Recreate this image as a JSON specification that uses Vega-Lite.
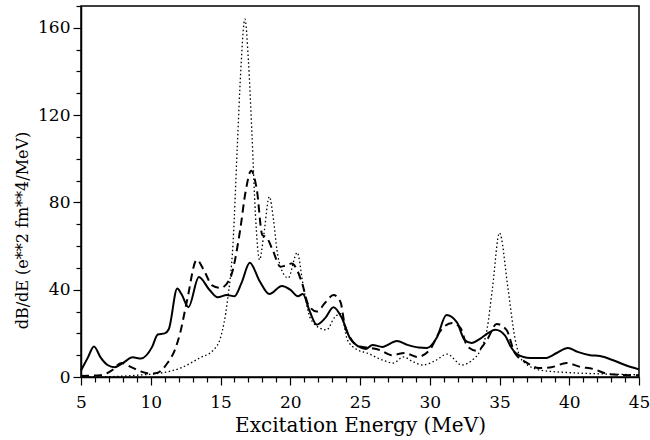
{
  "$schema": "https://vega.github.io/schema/vega-lite/v6.json",
  "width": 558,
  "height": 371,
  "autosize": "none",
  "padding": {"left": 81, "top": 6, "right": 11, "bottom": 63},
  "background": "white",
  "config": {
    "view": {"stroke": "black", "strokeWidth": 1.5},
    "axis": {
      "labelFont": "DejaVu Serif", "titleFont": "DejaVu Serif",
      "labelFontSize": 17, "titleFontSize": 18, "titleFontWeight": "normal",
      "labelColor": "black", "titleColor": "black",
      "domainColor": "black", "tickColor": "black", "domainWidth": 1.5, "tickWidth": 1.2,
      "grid": false
    }
  },
  "datasets": {
    "curves": [
      {"E":5,"dB":3,"s":"solid"},{"E":5.5,"dB":9,"s":"solid"},{"E":5.93,"dB":14,"s":"solid"},{"E":6.4,"dB":9,"s":"solid"},{"E":6.9,"dB":5.5,"s":"solid"},{"E":7.4,"dB":4.5,"s":"solid"},{"E":8.0,"dB":6.4,"s":"solid"},{"E":8.7,"dB":9,"s":"solid"},{"E":9.3,"dB":8.5,"s":"solid"},{"E":10.1,"dB":13.8,"s":"solid"},{"E":10.5,"dB":19.5,"s":"solid"},{"E":11.0,"dB":20,"s":"solid"},{"E":11.3,"dB":22,"s":"solid"},{"E":11.9,"dB":40.5,"s":"solid"},{"E":12.2,"dB":38,"s":"solid"},{"E":12.7,"dB":32,"s":"solid"},{"E":13.45,"dB":45.8,"s":"solid"},{"E":14.2,"dB":40,"s":"solid"},{"E":14.8,"dB":36.5,"s":"solid"},{"E":15.45,"dB":37.6,"s":"solid"},{"E":16.0,"dB":37,"s":"solid"},{"E":16.5,"dB":43,"s":"solid"},{"E":17.1,"dB":52.3,"s":"solid"},{"E":17.8,"dB":44,"s":"solid"},{"E":18.5,"dB":38,"s":"solid"},{"E":19.4,"dB":41.7,"s":"solid"},{"E":20.0,"dB":40,"s":"solid"},{"E":20.55,"dB":37,"s":"solid"},{"E":20.9,"dB":38,"s":"solid"},{"E":21.4,"dB":30,"s":"solid"},{"E":21.9,"dB":24,"s":"solid"},{"E":22.5,"dB":27,"s":"solid"},{"E":23.1,"dB":32,"s":"solid"},{"E":23.7,"dB":27,"s":"solid"},{"E":24.3,"dB":17.5,"s":"solid"},{"E":24.9,"dB":14,"s":"solid"},{"E":25.4,"dB":12.8,"s":"solid"},{"E":25.9,"dB":14.7,"s":"solid"},{"E":26.6,"dB":13.8,"s":"solid"},{"E":27.65,"dB":16.5,"s":"solid"},{"E":28.4,"dB":14.7,"s":"solid"},{"E":29.2,"dB":13.5,"s":"solid"},{"E":29.8,"dB":13.3,"s":"solid"},{"E":30.5,"dB":18,"s":"solid"},{"E":31.2,"dB":28.4,"s":"solid"},{"E":31.95,"dB":25,"s":"solid"},{"E":32.5,"dB":17,"s":"solid"},{"E":33.0,"dB":15.6,"s":"solid"},{"E":33.6,"dB":17.5,"s":"solid"},{"E":34.2,"dB":20.2,"s":"solid"},{"E":34.7,"dB":21.6,"s":"solid"},{"E":35.4,"dB":19,"s":"solid"},{"E":35.8,"dB":14,"s":"solid"},{"E":36.25,"dB":10.5,"s":"solid"},{"E":37.2,"dB":8.7,"s":"solid"},{"E":38.3,"dB":8.7,"s":"solid"},{"E":39.1,"dB":11,"s":"solid"},{"E":39.9,"dB":13.3,"s":"solid"},{"E":40.6,"dB":11.5,"s":"solid"},{"E":41.5,"dB":10,"s":"solid"},{"E":42.2,"dB":9.6,"s":"solid"},{"E":43.1,"dB":7.8,"s":"solid"},{"E":44.0,"dB":5.5,"s":"solid"},{"E":45,"dB":3.5,"s":"solid"},

      {"E":5,"dB":0.5,"s":"dashed"},{"E":6.4,"dB":0.8,"s":"dashed"},{"E":7.2,"dB":3,"s":"dashed"},{"E":7.9,"dB":6.4,"s":"dashed"},{"E":8.6,"dB":4.5,"s":"dashed"},{"E":9.4,"dB":2.3,"s":"dashed"},{"E":10.0,"dB":1.5,"s":"dashed"},{"E":10.5,"dB":2,"s":"dashed"},{"E":11.2,"dB":6.4,"s":"dashed"},{"E":11.7,"dB":12,"s":"dashed"},{"E":12.1,"dB":20,"s":"dashed"},{"E":12.6,"dB":35,"s":"dashed"},{"E":13.3,"dB":53.7,"s":"dashed"},{"E":13.8,"dB":49,"s":"dashed"},{"E":14.4,"dB":42,"s":"dashed"},{"E":15.0,"dB":40.8,"s":"dashed"},{"E":15.7,"dB":45.4,"s":"dashed"},{"E":16.4,"dB":67,"s":"dashed"},{"E":16.8,"dB":85,"s":"dashed"},{"E":17.2,"dB":94.5,"s":"dashed"},{"E":17.6,"dB":86,"s":"dashed"},{"E":18.0,"dB":65,"s":"dashed"},{"E":18.3,"dB":64,"s":"dashed"},{"E":18.75,"dB":58,"s":"dashed"},{"E":19.3,"dB":50.5,"s":"dashed"},{"E":19.6,"dB":51,"s":"dashed"},{"E":20.1,"dB":52,"s":"dashed"},{"E":20.85,"dB":43,"s":"dashed"},{"E":21.3,"dB":33,"s":"dashed"},{"E":21.9,"dB":30,"s":"dashed"},{"E":22.5,"dB":34,"s":"dashed"},{"E":23.1,"dB":37.6,"s":"dashed"},{"E":23.6,"dB":34.4,"s":"dashed"},{"E":23.9,"dB":24,"s":"dashed"},{"E":24.3,"dB":18,"s":"dashed"},{"E":25.0,"dB":14,"s":"dashed"},{"E":25.7,"dB":13.3,"s":"dashed"},{"E":26.4,"dB":12.4,"s":"dashed"},{"E":27.3,"dB":10,"s":"dashed"},{"E":28.2,"dB":11,"s":"dashed"},{"E":29.1,"dB":9.2,"s":"dashed"},{"E":30.0,"dB":12.4,"s":"dashed"},{"E":30.7,"dB":20.6,"s":"dashed"},{"E":31.6,"dB":24.8,"s":"dashed"},{"E":32.2,"dB":22.5,"s":"dashed"},{"E":32.7,"dB":14,"s":"dashed"},{"E":33.4,"dB":12,"s":"dashed"},{"E":34.1,"dB":17,"s":"dashed"},{"E":34.8,"dB":24.3,"s":"dashed"},{"E":35.5,"dB":21.6,"s":"dashed"},{"E":36.1,"dB":11,"s":"dashed"},{"E":37.0,"dB":6.4,"s":"dashed"},{"E":37.8,"dB":4.1,"s":"dashed"},{"E":38.8,"dB":4.6,"s":"dashed"},{"E":39.8,"dB":6.4,"s":"dashed"},{"E":40.8,"dB":4.6,"s":"dashed"},{"E":41.7,"dB":3.7,"s":"dashed"},{"E":42.7,"dB":1.5,"s":"dashed"},{"E":43.5,"dB":1,"s":"dashed"},{"E":45,"dB":0.8,"s":"dashed"},

      {"E":5,"dB":0,"s":"dotted"},{"E":7.3,"dB":0.2,"s":"dotted"},{"E":9,"dB":0.8,"s":"dotted"},{"E":10.7,"dB":1.8,"s":"dotted"},{"E":12.1,"dB":4,"s":"dotted"},{"E":13.5,"dB":8.7,"s":"dotted"},{"E":14.5,"dB":12.4,"s":"dotted"},{"E":15.0,"dB":18,"s":"dotted"},{"E":15.5,"dB":35,"s":"dotted"},{"E":15.9,"dB":61.5,"s":"dotted"},{"E":16.2,"dB":105,"s":"dotted"},{"E":16.45,"dB":140,"s":"dotted"},{"E":16.75,"dB":164,"s":"dotted"},{"E":17.0,"dB":145,"s":"dotted"},{"E":17.25,"dB":112,"s":"dotted"},{"E":17.5,"dB":75,"s":"dotted"},{"E":17.8,"dB":53.7,"s":"dotted"},{"E":18.1,"dB":65,"s":"dotted"},{"E":18.5,"dB":82.6,"s":"dotted"},{"E":18.8,"dB":72,"s":"dotted"},{"E":19.05,"dB":58,"s":"dotted"},{"E":19.3,"dB":50.5,"s":"dotted"},{"E":19.85,"dB":45.4,"s":"dotted"},{"E":20.5,"dB":57,"s":"dotted"},{"E":20.9,"dB":43,"s":"dotted"},{"E":21.4,"dB":27.5,"s":"dotted"},{"E":22.1,"dB":22.5,"s":"dotted"},{"E":22.6,"dB":21.6,"s":"dotted"},{"E":23.2,"dB":27.5,"s":"dotted"},{"E":23.6,"dB":29,"s":"dotted"},{"E":24.1,"dB":17,"s":"dotted"},{"E":24.8,"dB":12.5,"s":"dotted"},{"E":25.5,"dB":11,"s":"dotted"},{"E":26.6,"dB":7.8,"s":"dotted"},{"E":27.4,"dB":6.4,"s":"dotted"},{"E":28.1,"dB":9.2,"s":"dotted"},{"E":28.8,"dB":7,"s":"dotted"},{"E":29.5,"dB":5.5,"s":"dotted"},{"E":30.4,"dB":7.5,"s":"dotted"},{"E":31.25,"dB":10.5,"s":"dotted"},{"E":32.3,"dB":5.5,"s":"dotted"},{"E":33.0,"dB":7.5,"s":"dotted"},{"E":33.6,"dB":12,"s":"dotted"},{"E":34.1,"dB":21.6,"s":"dotted"},{"E":34.5,"dB":41,"s":"dotted"},{"E":35.0,"dB":66,"s":"dotted"},{"E":35.6,"dB":41,"s":"dotted"},{"E":36.1,"dB":18,"s":"dotted"},{"E":36.6,"dB":7.8,"s":"dotted"},{"E":37.9,"dB":3.2,"s":"dotted"},{"E":40,"dB":2,"s":"dotted"},{"E":42,"dB":1.5,"s":"dotted"},{"E":45,"dB":1,"s":"dotted"}
    ]
  },
  "data": {"name": "curves"},
  "layer": [
    {
      "transform": [{"filter": "datum.s === 'solid'"}],
      "mark": {"type": "line", "interpolate": "monotone", "color": "black", "strokeWidth": 2},
      "encoding": {
        "x": {"field": "E", "type": "quantitative", "scale": {"domain": [5, 45], "nice": false, "zero": false},
          "axis": {"orient": "bottom", "values": [5,10,15,20,25,30,35,40,45], "tickSize": 8, "labelPadding": 9, "title": "Excitation Energy (MeV)", "titleFontSize": 20, "titlePadding": 5, "labelFlush": false}},
        "y": {"field": "dB", "type": "quantitative", "scale": {"domain": [0, 170], "nice": false},
          "axis": {"orient": "left", "values": [0,40,80,120,160], "tickSize": 8, "labelPadding": 3, "title": "dB/dE (e**2 fm**4/MeV)", "titleFontSize": 16, "titleY": 224, "titleAlign": "center", "titleBaseline": "middle", "titleX": -59}}
      }
    },
    {
      "transform": [{"filter": "datum.s === 'dashed'"}],
      "mark": {"type": "line", "interpolate": "monotone", "color": "black", "strokeWidth": 2, "strokeDash": [8, 5]},
      "encoding": {
        "x": {"field": "E", "type": "quantitative",
          "axis": {"orient": "bottom", "values": [6,7,8,9,11,12,13,14,16,17,18,19,21,22,23,24,26,27,28,29,31,32,33,34,36,37,38,39,41,42,43,44], "tickSize": 5, "labels": false, "domain": false, "title": null}},
        "y": {"field": "dB", "type": "quantitative",
          "axis": {"orient": "left", "values": [10,20,30,50,60,70,90,100,110,130,140,150,170], "tickSize": 5, "labels": false, "domain": false, "title": null}}
      }
    },
    {
      "transform": [{"filter": "datum.s === 'dotted'"}],
      "mark": {"type": "line", "interpolate": "monotone", "color": "black", "strokeWidth": 1.3, "strokeDash": [1.5, 2.5]},
      "encoding": {
        "x": {"field": "E", "type": "quantitative", "axis": null},
        "y": {"field": "dB", "type": "quantitative", "axis": null}
      }
    }
  ],
  "resolve": {"axis": {"x": "independent", "y": "independent"}}
}
